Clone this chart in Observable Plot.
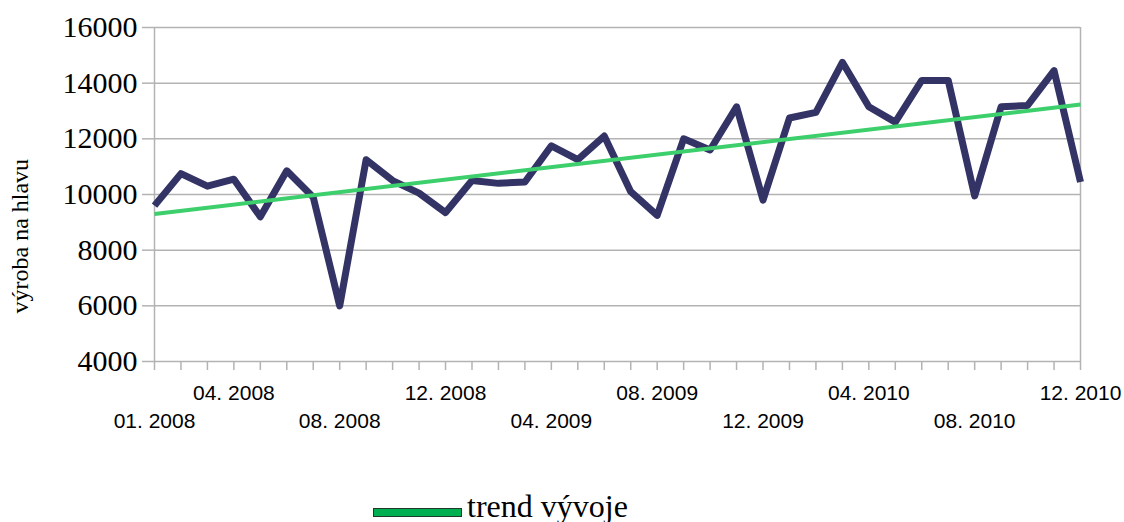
<!DOCTYPE html>
<html>
<head>
<meta charset="utf-8">
<script src="https://cdn.jsdelivr.net/npm/d3@7"></script>
<script src="https://cdn.jsdelivr.net/npm/@observablehq/plot@0.6"></script>
<style>
  html, body { margin: 0; padding: 0; background: #fff; }
  #wrap { width: 1124px; }
  #legend { position: relative; width: 1124px; height: 32px; }
  #legend .sw { position: absolute; left: 373px; top: 18px; width: 87px; height: 7px; background: #00b050; border: 1px solid #1f3a2a; }
  #legend .lt { position: absolute; left: 467px; top: 0; line-height: 32px; font-family: "Liberation Serif", "Times New Roman", serif; font-size: 32px; color: #000; white-space: nowrap; }
</style>
</head>
<body>
<div id="wrap"></div>
<script>
// ---- data ----
const years = [2008, 2009, 2010];
const monthNums = ["01","02","03","04","05","06","07","08","09","10","11","12"];
const months = years.flatMap(y => monthNums.map(m => `${m}. ${y}`));

const production = [
  9600, 10750, 10300, 10550, 9200, 10850, 9900, 6000, 11250, 10500, 10050, 9350,
  10500, 10400, 10450, 11750, 11250, 12100, 10100, 9250, 12000, 11600, 13150, 9800,
  12750, 12950, 14750, 13150, 12600, 14100, 14100, 9950, 13150, 13200, 14450, 10450
];

const trendMonths = ["01. 2008", "12. 2010"];
const trendValues = [9300, 13230];

const yTicks = [4000, 6000, 8000, 10000, 12000, 14000, 16000];
const labelsRow1 = ["04. 2008", "12. 2008", "08. 2009", "04. 2010", "12. 2010"];
const labelsRow2 = ["01. 2008", "08. 2008", "04. 2009", "12. 2009", "08. 2010"];

const yTitle = "výroba na hlavu";
const legendLabel = "trend vývoje";

// ---- tables ----
const data = months.map((m, i) => ({month: m, value: production[i]}));
const trend = trendMonths.map((m, i) => ({month: m, value: trendValues[i]}));

const grid = "#b3b3b3";
const serif = "Liberation Serif, Times New Roman, serif";
const sans = "Liberation Sans, Arial, sans-serif";

const chart = Plot.plot({
  width: 1124,
  height: 490,
  marginLeft: 154,
  marginRight: 44,
  marginTop: 27,
  marginBottom: 129,
  x: {type: "point", domain: months, padding: 0, round: false, label: null},
  y: {domain: [4000, 16000], label: null},
  marks: [
    Plot.gridY(yTicks, {stroke: grid, strokeOpacity: 1, strokeWidth: 1.5}),
    Plot.ruleX([months[0], months[months.length - 1]], {stroke: grid, strokeWidth: 1.5}),
    Plot.axisY(yTicks, {tickSize: 12, tickPadding: 5, fontSize: 30, fontFamily: serif,
      stroke: grid, strokeWidth: 1.5, fill: "#000", label: null, tickFormat: d => String(d)}),
    Plot.axisX(months, {tickSize: 9, stroke: grid, strokeWidth: 1.5, tickFormat: () => "", label: null}),
    Plot.axisX(labelsRow1, {tickSize: 0, tickPadding: 24, fontSize: 21, fontFamily: sans, fill: "#000", label: null}),
    Plot.axisX(labelsRow2, {tickSize: 0, tickPadding: 52, fontSize: 21, fontFamily: sans, fill: "#000", label: null}),
    Plot.line(data, {x: "month", y: "value", stroke: "#333366", strokeWidth: 7,
      strokeLinejoin: "round", strokeLinecap: "butt"}),
    Plot.line(trend, {x: "month", y: "value", stroke: "#3ccf6b", strokeWidth: 4, strokeLinecap: "butt"}),
    Plot.text([yTitle], {frameAnchor: "left", dx: -134, dy: 119, rotate: -90,
      fontSize: 24, fontFamily: serif, fill: "#000"})
  ]
});

const wrap = document.getElementById("wrap");
wrap.appendChild(chart);
const legend = document.createElement("div");
legend.id = "legend";
legend.innerHTML = `<div class="sw"></div><div class="lt"></div>`;
legend.querySelector(".lt").textContent = legendLabel;
wrap.appendChild(legend);
</script>
</body>
</html>
